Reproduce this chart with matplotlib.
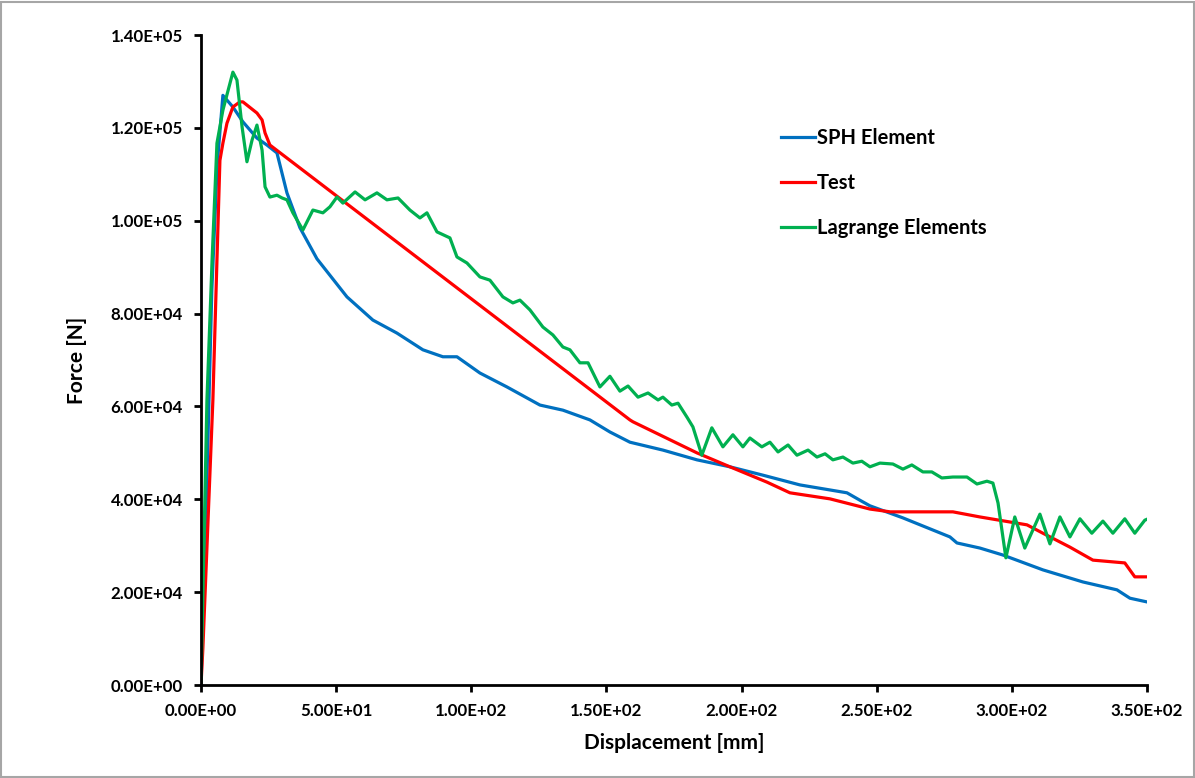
import numpy as np
import matplotlib.pyplot as plt
from matplotlib.patches import Rectangle
from matplotlib.ticker import FuncFormatter

# ----------------------------------------------------------------------
# Data (displacement [mm], force [N])
# ----------------------------------------------------------------------
sph_x = [0, 2, 4, 6, 8.1, 11.8, 15.5, 20.7, 24.4, 28.1, 31.8, 36.6, 42.9,
         54.0, 63.6, 72.5, 82.1, 89.5, 94.7, 103.2, 113.2, 125.4, 133.9,
         143.9, 151.3, 158.7, 170.9, 183.5, 195.7, 207.9, 221.6, 239.0,
         243.8, 247.5, 259.7, 277.1, 279.7, 288.2, 296.7, 311.5, 326.3,
         338.9, 343.7, 350.0]
sph_y = [0, 40000, 85000, 112000, 127000, 124500, 121300, 117800, 116300,
         114600, 106000, 98500, 91800, 83600, 78600, 75800, 72200, 70700,
         70700, 67200, 64200, 60300, 59200, 57100, 54500, 52300, 50600,
         48500, 47000, 45200, 43100, 41400, 39800, 38600, 36000, 31900,
         30600, 29500, 28000, 24800, 22200, 20500, 18700, 17900]

test_x = [0, 0.7, 4.4, 5.9, 7.0, 8.1, 9.6, 11.8, 14.4, 15.5, 20.7, 22.6,
          23.7, 25.5, 158.7, 159.8, 183.5, 195.7, 209.4, 217.9, 232.7,
          247.5, 255.0, 278.2, 288.2, 305.6, 311.5, 321.5, 330.0, 341.8,
          345.5, 350.0]
test_y = [0, 8000, 61400, 91500, 113000, 116700, 121000, 124500, 125600,
          125600, 123200, 121700, 118900, 116300, 57100, 56700, 50000,
          47000, 43700, 41400, 40100, 37900, 37300, 37300, 36200, 34500,
          32700, 29700, 26900, 26300, 23300, 23300]

lag_x = [0, 2.2, 4.1, 5.9, 8.1, 11.8, 13.3, 15.2, 17.0, 18.9, 20.7, 22.6,
         23.7, 25.5, 28.1, 30.0, 31.8, 34.0, 37.7, 41.4, 45.1, 47.7, 50.3,
         52.5, 57.0, 60.7, 65.1, 68.8, 72.9, 77.3, 81.0, 83.6, 87.3, 92.1,
         94.7, 98.4, 103.2, 106.9, 111.7, 115.4, 118.0, 121.7, 126.5,
         130.2, 133.9, 136.5, 140.2, 143.2, 147.6, 151.3, 155.0, 158.0,
         161.7, 165.4, 169.1, 170.9, 174.2, 176.5, 179.8, 182.0, 185.3,
         189.0, 193.1, 196.8, 200.5, 203.1, 207.5, 210.5, 213.5, 217.2,
         220.5, 224.6, 227.9, 230.9, 233.8, 237.5, 241.2, 244.5, 247.5,
         251.2, 256.0, 259.7, 263.0, 267.1, 270.4, 274.1, 278.2, 283.4,
         287.1, 290.8, 293.0, 294.9, 297.8, 301.1, 304.8, 310.4, 314.1,
         317.8, 321.5, 325.2, 329.6, 333.7, 337.4, 341.8, 345.5, 349.2,
         350.0]
lag_y = [0, 61400, 91500, 116700, 123800, 132000, 130300, 120200, 112700,
         117400, 120600, 115200, 107300, 105100, 105500, 104900, 104500,
         101700, 98000, 102300, 101700, 103000, 105100, 103800, 106200,
         104500, 106000, 104500, 104900, 102300, 100600, 101700, 97600,
         96300, 92200, 90900, 87900, 87200, 83600, 82300, 82900, 80800,
         77100, 75400, 72800, 72200, 69400, 69400, 64200, 66500, 63300,
         64400, 62000, 62900, 61400, 62000, 60300, 60700, 57700, 55600,
         49500, 55400, 51300, 53900, 51300, 53200, 51300, 52300, 50200,
         51700, 49500, 50600, 49100, 49800, 48500, 49100, 47800, 48200,
         47000, 47800, 47600, 46500, 47400, 45900, 45900, 44600, 44800,
         44800, 43300, 43900, 43500, 39200, 27400, 36200, 29500, 36800,
         30400, 36200, 31900, 35800, 32700, 35300, 32700, 35800, 32700,
         35500, 35700]

x_ticks = [0, 50, 100, 150, 200, 250, 300, 350]
y_ticks = [0, 20000, 40000, 60000, 80000, 100000, 120000, 140000]

BLUE = "#0070C0"
RED = "#FF0000"
GREEN = "#00B050"


def sci_fmt(v, pos):
    # Excel-style scientific labels, e.g. 1.40E+05
    return f"{v:.2E}"


plt.rcParams["font.family"] = ["Lato", "DejaVu Sans"]
plt.rcParams["font.weight"] = "bold"

fig = plt.figure(figsize=(11.95, 7.78), dpi=100)
ax = fig.add_axes([0.1682, 0.1195, 0.7916, 0.8355])

ax.plot(sph_x, sph_y, color=BLUE, lw=2.3, label="SPH Element",
        solid_joinstyle="round")
ax.plot(test_x, test_y, color=RED, lw=2.3, label="Test",
        solid_joinstyle="round")
ax.plot(lag_x, lag_y, color=GREEN, lw=2.3, label="Lagrange Elements",
        solid_joinstyle="round")

ax.set_xlim(0, 350)
ax.set_ylim(0, 140000)
ax.set_xticks(x_ticks)
ax.set_yticks(y_ticks)
ax.xaxis.set_major_formatter(FuncFormatter(sci_fmt))
ax.yaxis.set_major_formatter(FuncFormatter(sci_fmt))

for side in ("top", "right"):
    ax.spines[side].set_visible(False)
for side in ("left", "bottom"):
    ax.spines[side].set_linewidth(2.0)
    ax.spines[side].set_color("black")
ax.tick_params(axis="both", direction="out", length=5, width=2,
               labelsize=12.2, pad=8)
for lab in ax.get_xticklabels() + ax.get_yticklabels():
    lab.set_fontweight("bold")

ax.set_xlabel("Displacement [mm]", fontsize=15, fontweight="bold",
              labelpad=10)
ax.set_ylabel("Force [N]", fontsize=15, fontweight="bold", labelpad=17)

leg = ax.legend(loc="upper left", bbox_to_anchor=(0.613, 0.857),
                frameon=False, handlelength=1.7, handletextpad=0.1,
                labelspacing=1.25, borderpad=0, borderaxespad=0,
                prop={"weight": "bold", "size": 14.5})

# light grey frame around the whole chart
fig.patches.append(Rectangle((0.001, 0.001), 0.998, 0.997,
                             transform=fig.transFigure, fill=False,
                             edgecolor="#a6a6a6", lw=1.5))

fig.savefig("out.png", dpi=100)
